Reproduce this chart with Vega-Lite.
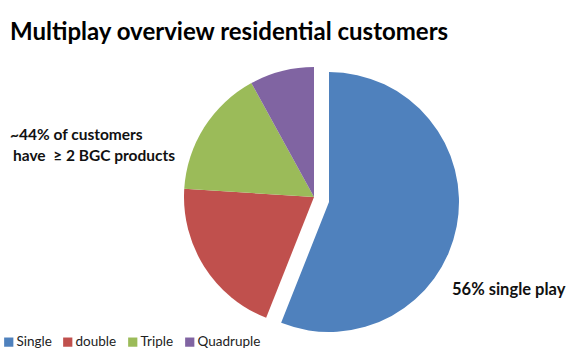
{
  "$schema": "https://vega.github.io/schema/vega-lite/v6.json",
  "width": 566,
  "height": 300,
  "autosize": "none",
  "padding": {"top": 50, "left": 0, "right": 0, "bottom": 0},
  "background": "white",
  "title": {
    "text": "Multiplay overview residential customers",
    "anchor": "start",
    "frame": "group",
    "font": "Lato",
    "fontSize": 24,
    "fontWeight": "bold",
    "color": "black",
    "baseline": "alphabetic",
    "offset": 10,
    "dx": 10,
    "dy": 24
  },
  "config": {"view": {"stroke": null}},
  "datasets": {
    "shares": [
      {"category": "Single", "share": 56, "rank": 1},
      {"category": "double", "share": 20, "rank": 2},
      {"category": "Triple", "share": 16, "rank": 3},
      {"category": "Quadruple", "share": 8, "rank": 4}
    ]
  },
  "layer": [
    {
      "data": {"name": "shares"},
      "mark": {"type": "arc", "radius": 130, "xOffset": 31, "yOffset": -3},
      "encoding": {
        "theta": {"field": "share", "type": "quantitative", "stack": true},
        "order": {"field": "rank", "type": "quantitative"},
        "color": {
          "field": "category",
          "type": "nominal",
          "scale": {
            "domain": ["Single", "double", "Triple", "Quadruple"],
            "range": ["#4F81BD", "#C0504D", "#9BBB59", "#8064A2"]
          },
          "legend": {
            "title": null,
            "orient": "none",
            "direction": "horizontal",
            "legendX": 2,
            "legendY": 285,
            "symbolType": "square",
            "symbolSize": 85,
            "symbolStrokeWidth": 0,
            "labelFont": "Lato",
            "labelFontSize": 13.5,
            "labelColor": "#222",
            "labelOffset": 1,
            "columnPadding": 9
          }
        },
        "opacity": {
          "condition": {"test": "datum.category === 'Single'", "value": 0},
          "value": 1
        }
      }
    },
    {
      "data": {"name": "shares"},
      "mark": {"type": "arc", "radius": 130, "xOffset": 46, "yOffset": 2},
      "encoding": {
        "theta": {"field": "share", "type": "quantitative", "stack": true},
        "order": {"field": "rank", "type": "quantitative"},
        "color": {"field": "category", "type": "nominal"},
        "opacity": {
          "condition": {"test": "datum.category === 'Single'", "value": 1},
          "value": 0
        }
      }
    },
    {
      "data": {"values": [{"label": "~44% of customers"}]},
      "mark": {"type": "text", "x": 10, "y": 90, "align": "left", "baseline": "alphabetic", "font": "Lato", "fontSize": 15.5, "fontWeight": "bold", "color": "#111"},
      "encoding": {"text": {"field": "label"}}
    },
    {
      "data": {"values": [{"label": "have\u00a0\u00a0\u2265\u00a02 BGC products"}]},
      "mark": {"type": "text", "x": 13, "y": 111, "align": "left", "baseline": "alphabetic", "font": "Lato", "fontSize": 15.5, "fontWeight": "bold", "color": "#111"},
      "encoding": {"text": {"field": "label"}}
    },
    {
      "data": {"values": [{"label": "56% single play"}]},
      "mark": {"type": "text", "x": 452, "y": 245, "align": "left", "baseline": "alphabetic", "font": "Lato", "fontSize": 16.5, "fontWeight": "bold", "color": "#111"},
      "encoding": {"text": {"field": "label"}}
    }
  ]
}
